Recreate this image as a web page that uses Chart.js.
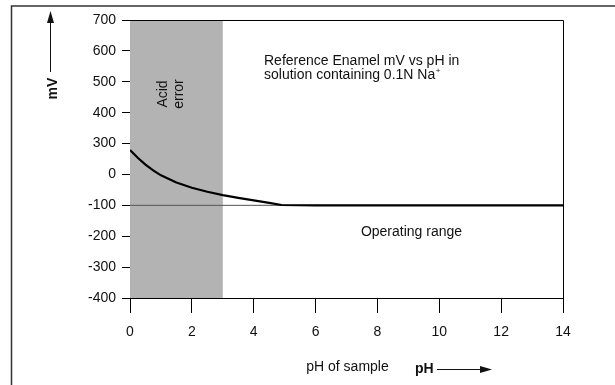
<!DOCTYPE html>
<html>
<head>
<meta charset="utf-8">
<script src="https://cdn.jsdelivr.net/npm/chart.js@4/dist/chart.umd.min.js"></script>
<style>
  html, body { margin: 0; padding: 0; background: #fff; }
  #wrap { width: 615px; height: 385px; position: relative; }
</style>
</head>
<body>
<div id="wrap"><canvas id="c" width="615" height="385"></canvas></div>
<script>
// ---- data (y values are in the axis' evenly spaced position units; see yTickLabels) ----
const pHValues   = [0, 0.25, 0.5, 0.75, 1.0, 1.5, 2.0, 2.5, 3.0, 3.5, 4.0, 4.5, 4.9, 6, 8, 10, 12, 14];
const mVCurve    = [279, 254, 232, 213, 197, 174, 157, 144, 133, 124, 116, 108, 101, 100, 100, 100, 100, 100];
const refLineX   = [0, 14];
const refLineY   = [100, 100];            // the "-100" reference line
const acidRange  = [0, 3];                // acid error band (pH)
const xTickValues = [0, 2, 4, 6, 8, 10, 12, 14];
const yTickValues = [700, 600, 500, 400, 300, 200, 100, 0, -100, -200];
const yTickLabels = ['700', '600', '500', '400', '300', '0', '-100', '-200', '-300', '-400'];

const FONT = '"Liberation Sans", Arial, Helvetica, sans-serif';

const decor = {
  id: 'decor',
  beforeDraw(chart) {
    const ctx = chart.ctx;
    ctx.save();
    ctx.fillStyle = '#fff';
    ctx.fillRect(0, 0, chart.width, chart.height);
    ctx.strokeStyle = '#333';
    ctx.lineWidth = 1.5;
    ctx.beginPath();
    ctx.moveTo(11.5, 400);
    ctx.lineTo(11.5, 6);
    ctx.lineTo(620, 6);
    ctx.stroke();
    ctx.restore();
  },
  beforeDatasetsDraw(chart) {
    const { ctx, chartArea: a, scales: { x } } = chart;
    ctx.save();
    const x0 = x.getPixelForValue(acidRange[0]);
    const x1 = x.getPixelForValue(acidRange[1]);
    ctx.fillStyle = '#b3b3b3';
    ctx.fillRect(x0, a.top, x1 - x0, a.bottom - a.top);
    ctx.strokeStyle = '#000';
    ctx.lineWidth = 1;
    ctx.beginPath();
    ctx.moveTo(a.left, a.top + 0.5);
    ctx.lineTo(a.right + 0.5, a.top + 0.5);
    ctx.lineTo(a.right + 0.5, a.bottom);
    ctx.stroke();
    ctx.fillStyle = '#111';
    ctx.font = '14px ' + FONT;
    ctx.textAlign = 'center';
    ctx.textBaseline = 'alphabetic';
    ctx.save();
    ctx.translate(170, 94);
    ctx.rotate(-Math.PI / 2);
    ctx.fillText('Acid', 0, -3);
    ctx.fillText('error', 0, 13);
    ctx.restore();
    ctx.restore();
  },
  afterDraw(chart) {
    const ctx = chart.ctx;
    ctx.save();
    ctx.fillStyle = '#111';
    ctx.strokeStyle = '#111';
    ctx.font = '14px ' + FONT;
    ctx.textAlign = 'left';
    ctx.textBaseline = 'alphabetic';
    ctx.fillText('Reference Enamel mV vs pH in', 264, 65);
    const l2 = 'solution containing 0.1N Na';
    ctx.fillText(l2, 264, 79);
    const w2 = ctx.measureText(l2).width;
    ctx.font = '8px ' + FONT;
    ctx.fillText('+', 264 + w2 + 0.5, 73);
    ctx.font = '14px ' + FONT;
    ctx.textAlign = 'center';
    ctx.fillText('Operating range', 411.5, 236);
    ctx.fillText('pH of sample', 347.5, 371);
    ctx.font = 'bold 14px ' + FONT;
    ctx.textAlign = 'left';
    ctx.fillText('pH', 415, 373);
    ctx.lineWidth = 1;
    ctx.beginPath();
    ctx.moveTo(437, 369.5);
    ctx.lineTo(482, 369.5);
    ctx.stroke();
    ctx.beginPath();
    ctx.moveTo(492, 369.5);
    ctx.lineTo(480, 366);
    ctx.lineTo(480, 373);
    ctx.closePath();
    ctx.fill();
    ctx.save();
    ctx.translate(57, 88.5);
    ctx.rotate(-Math.PI / 2);
    ctx.font = 'bold 14px ' + FONT;
    ctx.textAlign = 'center';
    ctx.fillText('mV', 0, 0);
    ctx.restore();
    ctx.beginPath();
    ctx.moveTo(50.5, 72);
    ctx.lineTo(50.5, 20);
    ctx.stroke();
    ctx.beginPath();
    ctx.moveTo(50.5, 11);
    ctx.lineTo(47, 23);
    ctx.lineTo(54, 23);
    ctx.closePath();
    ctx.fill();
    ctx.restore();
  }
};

new Chart(document.getElementById('c'), {
  type: 'line',
  data: {
    datasets: [
      {
        data: pHValues.map((p, i) => ({ x: p, y: mVCurve[i] })),
        borderColor: '#000',
        borderWidth: 2.2,
        pointRadius: 0,
        tension: 0,
        fill: false,
        order: 0
      },
      {
        data: refLineX.map((p, i) => ({ x: p, y: refLineY[i] })),
        borderColor: '#555',
        borderWidth: 1,
        pointRadius: 0,
        fill: false,
        order: 1
      }
    ]
  },
  options: {
    responsive: false,
    animation: false,
    devicePixelRatio: 1,
    layout: { padding: { top: 20, right: 52, bottom: 0, left: 0 } },
    plugins: { legend: { display: false }, tooltip: { enabled: false } },
    scales: {
      x: {
        type: 'linear',
        min: 0, max: 14,
        afterBuildTicks(s) { s.ticks = xTickValues.map(v => ({ value: v })); },
        afterFit(s) { s.height = 87; },
        border: { display: true, color: '#000', width: 1 },
        grid: { drawOnChartArea: false, drawTicks: true, tickLength: 15, tickColor: '#000', tickWidth: 1 },
        ticks: { color: '#111', padding: 11, maxRotation: 0, autoSkip: false, font: { family: FONT, size: 14 } }
      },
      y: {
        type: 'linear',
        min: -200, max: 700,
        afterBuildTicks(s) { s.ticks = yTickValues.map(v => ({ value: v })); },
        afterFit(s) { s.width = 130; },
        border: { display: true, color: '#000', width: 1 },
        grid: { drawOnChartArea: false, drawTicks: true, tickLength: 8, tickColor: '#000', tickWidth: 1 },
        ticks: {
          color: '#111', padding: 6, autoSkip: false, font: { family: FONT, size: 14 },
          callback(v) { const i = yTickValues.indexOf(v); return i >= 0 ? yTickLabels[i] : ''; }
        }
      }
    }
  },
  plugins: [decor]
});
</script>
</body>
</html>
